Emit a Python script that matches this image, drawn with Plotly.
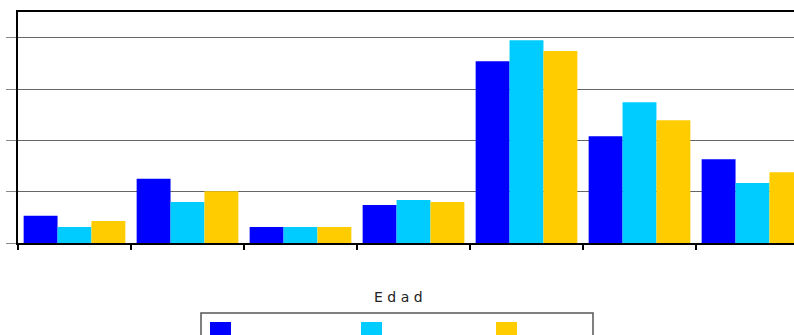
import plotly.graph_objects as go

categories = ["G1", "G2", "G3", "G4", "G5", "G6", "G7"]
series_names = ["Serie 1", "Serie 2", "Serie 3"]
serie_1 = [0.53, 1.25, 0.31, 0.74, 3.54, 2.08, 1.63]
serie_2 = [0.31, 0.80, 0.31, 0.84, 3.95, 2.74, 1.17]
serie_3 = [0.43, 1.01, 0.31, 0.80, 3.74, 2.39, 1.38]
colors = ["#0000FF", "#00CCFF", "#FFCC00"]
x_title = "E d a d"

W, H = 794, 335
L, T, B = 18, 12, 92
plot_w = W - L
plot_h = H - T - B
cat_px = 113.0

fig = go.Figure()
for name, vals, col in zip(series_names, [serie_1, serie_2, serie_3], colors):
    fig.add_trace(go.Bar(x=categories, y=vals, name=name, marker_color=col,
                         marker_line_width=0, showlegend=False))

x_max = -0.5 + plot_w / cat_px


def px_x(p):
    return (p - L) / plot_w


def px_y(p):
    return (H - B - p) / plot_h


shapes = []
# legend box
shapes.append(dict(type="rect", xref="paper", yref="paper",
                   x0=px_x(201), x1=px_x(593), y0=px_y(345), y1=px_y(313),
                   line=dict(color="#555555", width=1.5), fillcolor="white"))
for xs, col in zip([210, 361, 496], colors):
    shapes.append(dict(type="rect", xref="paper", yref="paper",
                       x0=px_x(xs), x1=px_x(xs + 21), y0=px_y(345), y1=px_y(322),
                       line=dict(width=0), fillcolor=col))

fig.update_layout(
    width=W, height=H,
    margin=dict(l=L, r=0, t=T, b=B),
    paper_bgcolor="white", plot_bgcolor="white",
    barmode="group", bargap=0.1, bargroupgap=0,
    font=dict(family="DejaVu Sans", color="#222222"),
    shapes=shapes,
    annotations=[dict(text=x_title, xref="paper", yref="paper",
                      x=px_x(398), y=px_y(297), showarrow=False,
                      font=dict(size=14, family="DejaVu Sans", color="#222222"),
                      xanchor="center", yanchor="middle")],
)
fig.update_xaxes(range=[-0.5, x_max], showticklabels=False, showgrid=False,
                 showline=True, linecolor="#000000", linewidth=1.5, mirror=True,
                 ticks="outside", ticklen=5, tickcolor="#000000", tickwidth=1.5,
                 tickson="boundaries", zeroline=False)
fig.update_yaxes(range=[0, 4.5], dtick=1, showticklabels=False, showgrid=True,
                 gridcolor="#666666", gridwidth=1.2,
                 showline=True, linecolor="#000000", linewidth=1.5,
                 ticks="outside", ticklen=10, tickcolor="#888888", tickwidth=1.2,
                 zeroline=False)

fig.write_html("out.html")
